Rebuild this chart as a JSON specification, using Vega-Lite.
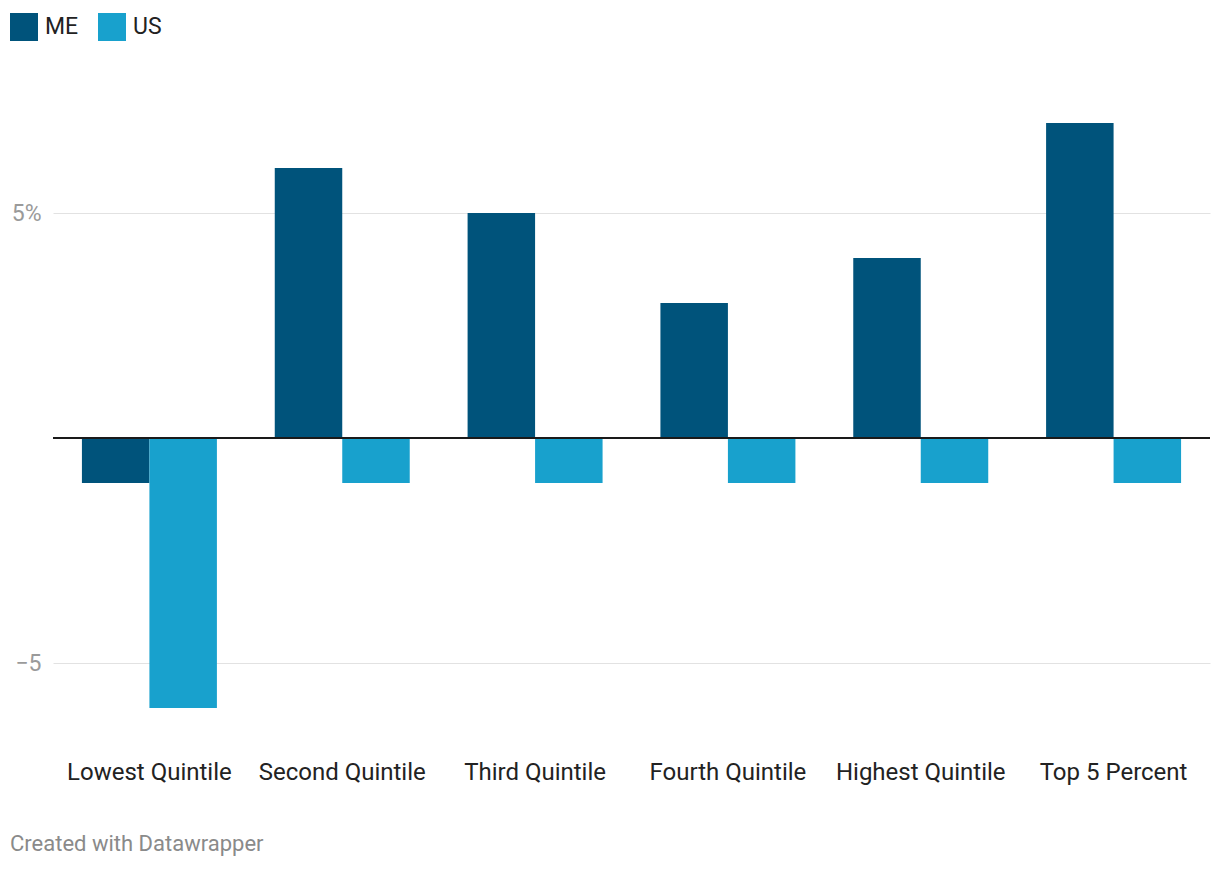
{
  "$schema": "https://vega.github.io/schema/vega-lite/v6.json",
  "autosize": "none",
  "width": 1157,
  "height": 675,
  "padding": {"left": 53, "top": 78, "right": 10, "bottom": 117},
  "background": "white",
  "config": {
    "font": "Roboto",
    "view": {"stroke": null}
  },
  "title": {
    "text": "Created with Datawrapper",
    "orient": "bottom",
    "anchor": "start",
    "frame": "group",
    "dx": -43,
    "offset": 50,
    "fontSize": 22,
    "fontWeight": "normal",
    "color": "#8a8a8a",
    "font": "Roboto"
  },
  "data": {
    "values": [
      {"group": "Lowest Quintile", "series": "ME", "value": -1},
      {"group": "Lowest Quintile", "series": "US", "value": -6},
      {"group": "Second Quintile", "series": "ME", "value": 6},
      {"group": "Second Quintile", "series": "US", "value": -1},
      {"group": "Third Quintile", "series": "ME", "value": 5},
      {"group": "Third Quintile", "series": "US", "value": -1},
      {"group": "Fourth Quintile", "series": "ME", "value": 3},
      {"group": "Fourth Quintile", "series": "US", "value": -1},
      {"group": "Highest Quintile", "series": "ME", "value": 4},
      {"group": "Highest Quintile", "series": "US", "value": -1},
      {"group": "Top 5 Percent", "series": "ME", "value": 7},
      {"group": "Top 5 Percent", "series": "US", "value": -1}
    ]
  },
  "layer": [
    {
      "mark": {"type": "bar"},
      "encoding": {
        "x": {
          "field": "group",
          "type": "nominal",
          "sort": null,
          "scale": {"paddingInner": 0.3, "paddingOuter": 0.15},
          "axis": {
            "title": null,
            "labelAngle": 0,
            "domain": false,
            "ticks": false,
            "labelFontSize": 24,
            "labelColor": "#222",
            "labelPadding": 7,
            "labelFont": "Roboto"
          }
        },
        "xOffset": {"field": "series", "type": "nominal", "sort": ["ME", "US"]},
        "y": {
          "field": "value",
          "type": "quantitative",
          "scale": {"domain": [-7, 8], "nice": false},
          "axis": {
            "title": null,
            "values": [-5, 5],
            "labelExpr": "datum.value > 0 ? datum.value + '%' : '−' + abs(datum.value)",
            "domain": false,
            "ticks": false,
            "grid": true,
            "gridColor": "#e2e2e2",
            "gridWidth": 1,
            "labelFontSize": 23,
            "labelColor": "#9a9a9a",
            "labelPadding": 12,
            "labelFont": "Roboto"
          }
        },
        "color": {
          "field": "series",
          "type": "nominal",
          "scale": {"domain": ["ME", "US"], "range": ["#00537b", "#18a1cd"]},
          "legend": {
            "title": null,
            "orient": "none",
            "legendX": -43,
            "legendY": -65,
            "direction": "horizontal",
            "symbolType": "square",
            "symbolSize": 784,
            "symbolStrokeWidth": 0,
            "symbolOpacity": 1,
            "labelFontSize": 23,
            "labelColor": "#222",
            "labelOffset": 7,
            "columnPadding": 19,
            "labelFont": "Roboto"
          }
        }
      }
    },
    {
      "data": {"values": [{"zero": 0}]},
      "mark": {"type": "rule", "color": "#1a1a1a", "strokeWidth": 2},
      "encoding": {"y": {"field": "zero", "type": "quantitative"}}
    }
  ]
}
